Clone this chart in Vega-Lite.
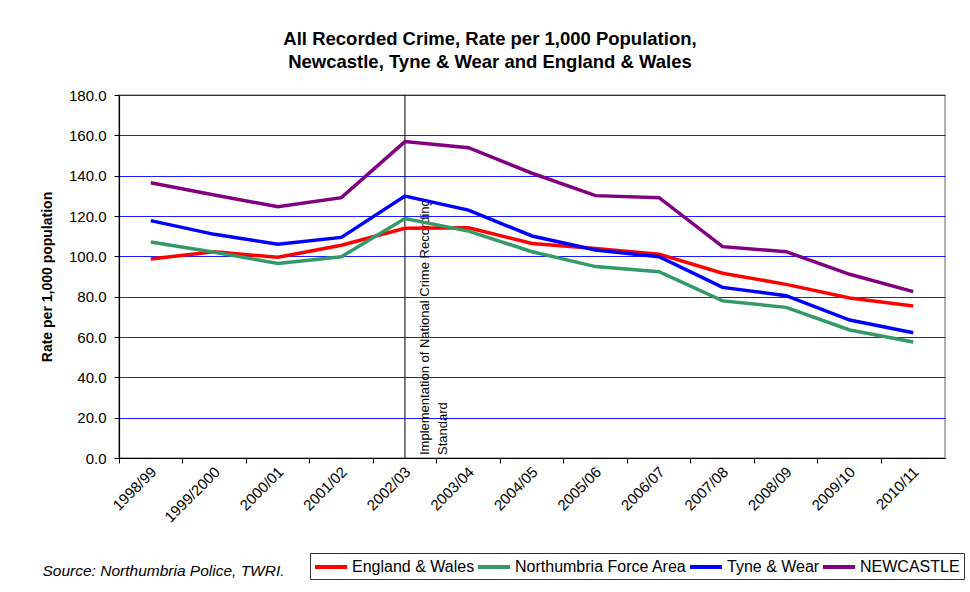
{
  "$schema": "https://vega.github.io/schema/vega-lite/v6.json",
  "width": 826,
  "height": 363,
  "autosize": {"type": "none"},
  "padding": {"left": 119, "top": 95, "right": 25, "bottom": 134},
  "background": "white",
  "config": {
    "font": "Liberation Sans",
    "view": {"stroke": "#999999", "strokeWidth": 1.5},
    "axis": {"labelFont": "Liberation Sans", "titleFont": "Liberation Sans", "labelColor": "black", "titleColor": "black", "domainColor": "black", "tickColor": "black"},
    "legend": {"strokeColor": "#333333"}
  },
  "title": {
    "text": ["All Recorded Crime, Rate per 1,000 Population,", "Newcastle, Tyne & Wear and England & Wales"],
    "fontSize": 18.5,
    "fontWeight": "bold",
    "font": "Liberation Sans",
    "color": "black",
    "anchor": "middle",
    "frame": "group",
    "dx": -42,
    "offset": 17,
    "lineHeight": 23
  },
  "datasets": {
    "crime": [
      {"year": "1998/99", "area": "England & Wales", "rate": 98.7},
      {"year": "1999/2000", "area": "England & Wales", "rate": 102.3},
      {"year": "2000/01", "area": "England & Wales", "rate": 99.5},
      {"year": "2001/02", "area": "England & Wales", "rate": 105.5},
      {"year": "2002/03", "area": "England & Wales", "rate": 113.9},
      {"year": "2003/04", "area": "England & Wales", "rate": 114.2},
      {"year": "2004/05", "area": "England & Wales", "rate": 106.4},
      {"year": "2005/06", "area": "England & Wales", "rate": 103.9},
      {"year": "2006/07", "area": "England & Wales", "rate": 101.1},
      {"year": "2007/08", "area": "England & Wales", "rate": 91.6},
      {"year": "2008/09", "area": "England & Wales", "rate": 86.1},
      {"year": "2009/10", "area": "England & Wales", "rate": 79.3},
      {"year": "2010/11", "area": "England & Wales", "rate": 75.4},
      {"year": "1998/99", "area": "Northumbria Force Area", "rate": 107.1},
      {"year": "1999/2000", "area": "Northumbria Force Area", "rate": 102.0},
      {"year": "2000/01", "area": "Northumbria Force Area", "rate": 96.5},
      {"year": "2001/02", "area": "Northumbria Force Area", "rate": 99.8},
      {"year": "2002/03", "area": "Northumbria Force Area", "rate": 118.7},
      {"year": "2003/04", "area": "Northumbria Force Area", "rate": 112.5},
      {"year": "2004/05", "area": "Northumbria Force Area", "rate": 102.3},
      {"year": "2005/06", "area": "Northumbria Force Area", "rate": 94.9},
      {"year": "2006/07", "area": "Northumbria Force Area", "rate": 92.4},
      {"year": "2007/08", "area": "Northumbria Force Area", "rate": 77.9},
      {"year": "2008/09", "area": "Northumbria Force Area", "rate": 74.7},
      {"year": "2009/10", "area": "Northumbria Force Area", "rate": 63.5},
      {"year": "2010/11", "area": "Northumbria Force Area", "rate": 57.5},
      {"year": "1998/99", "area": "Tyne & Wear", "rate": 117.7},
      {"year": "1999/2000", "area": "Tyne & Wear", "rate": 110.9},
      {"year": "2000/01", "area": "Tyne & Wear", "rate": 106.0},
      {"year": "2001/02", "area": "Tyne & Wear", "rate": 109.4},
      {"year": "2002/03", "area": "Tyne & Wear", "rate": 129.9},
      {"year": "2003/04", "area": "Tyne & Wear", "rate": 122.9},
      {"year": "2004/05", "area": "Tyne & Wear", "rate": 110.1},
      {"year": "2005/06", "area": "Tyne & Wear", "rate": 103.1},
      {"year": "2006/07", "area": "Tyne & Wear", "rate": 99.8},
      {"year": "2007/08", "area": "Tyne & Wear", "rate": 84.6},
      {"year": "2008/09", "area": "Tyne & Wear", "rate": 80.5},
      {"year": "2009/10", "area": "Tyne & Wear", "rate": 68.4},
      {"year": "2010/11", "area": "Tyne & Wear", "rate": 62.1},
      {"year": "1998/99", "area": "NEWCASTLE", "rate": 136.5},
      {"year": "1999/2000", "area": "NEWCASTLE", "rate": 130.4},
      {"year": "2000/01", "area": "NEWCASTLE", "rate": 124.6},
      {"year": "2001/02", "area": "NEWCASTLE", "rate": 129.1},
      {"year": "2002/03", "area": "NEWCASTLE", "rate": 156.9},
      {"year": "2003/04", "area": "NEWCASTLE", "rate": 153.9},
      {"year": "2004/05", "area": "NEWCASTLE", "rate": 141.2},
      {"year": "2005/06", "area": "NEWCASTLE", "rate": 130.1},
      {"year": "2006/07", "area": "NEWCASTLE", "rate": 129.1},
      {"year": "2007/08", "area": "NEWCASTLE", "rate": 104.8},
      {"year": "2008/09", "area": "NEWCASTLE", "rate": 102.3},
      {"year": "2009/10", "area": "NEWCASTLE", "rate": 91.1},
      {"year": "2010/11", "area": "NEWCASTLE", "rate": 82.5}
    ],
    "marker": [
      {"year": "2002/03", "rate": 0, "note": ["Implementation of National Crime Recording", "Standard"]}
    ]
  },
  "encoding": {
    "x": {
      "field": "year",
      "type": "ordinal",
      "sort": null,
      "scale": {"type": "band", "paddingInner": 0, "paddingOuter": 0,
        "domain": ["1998/99", "1999/2000", "2000/01", "2001/02", "2002/03", "2003/04", "2004/05", "2005/06", "2006/07", "2007/08", "2008/09", "2009/10", "2010/11"]},
      "axis": {
        "title": "Source: Northumbria Police, TWRI.",
        "titleFontStyle": "italic",
        "titleFontWeight": "normal",
        "titleFontSize": 15.5,
        "titleX": -77,
        "titleY": 112,
        "titleAlign": "left",
        "titleBaseline": "middle",
        "bandPosition": 0,
        "labelAngle": -45,
        "labelAlign": "right",
        "labelBaseline": "middle",
        "labelOffset": 3,
        "labelPadding": 6,
        "labelFontSize": 15,
        "tickSize": 5,
        "grid": false,
        "domainWidth": 1.2
      }
    },
    "y": {
      "field": "rate",
      "type": "quantitative",
      "scale": {"domain": [0, 180], "nice": false},
      "axis": {
        "title": "Rate per 1,000 population",
        "titleFontSize": 14,
        "titleFontWeight": "bold",
        "titleX": -72,
        "titleY": 181.5,
        "titleAlign": "center",
        "titleBaseline": "middle",
        "values": [0, 20, 40, 60, 80, 100, 120, 140, 160, 180],
        "format": ".1f",
        "labelFontSize": 15,
        "labelPadding": 8,
        "tickSize": 5,
        "grid": true,
        "gridColor": "#1a1aff",
        "gridWidth": 1,
        "domainWidth": 1.2
      }
    }
  },
  "layer": [
    {
      "data": {"name": "marker"},
      "mark": {"type": "rule", "color": "black", "strokeWidth": 1},
      "encoding": {"y": null}
    },
    {
      "data": {"name": "marker"},
      "mark": {"type": "text", "angle": 270, "align": "left", "baseline": "top", "dx": 3, "dy": 14, "fontSize": 13, "lineHeight": 18, "color": "black", "font": "Liberation Sans"},
      "encoding": {"text": {"field": "note"}}
    },
    {
      "data": {"name": "crime"},
      "mark": {"type": "line", "strokeWidth": 3.5},
      "encoding": {
        "color": {
          "field": "area",
          "type": "nominal",
          "scale": {"domain": ["England & Wales", "Northumbria Force Area", "Tyne & Wear", "NEWCASTLE"], "range": ["#FF0000", "#339966", "#0000FF", "#800080"]},
          "legend": {
            "title": null,
            "orient": "none",
            "legendX": 191,
            "legendY": 458,
            "direction": "horizontal",
            "columns": 4,
            "strokeColor": "#333333",
            "fillColor": "white",
            "padding": 4,
            "symbolType": "M-2,0H2",
            "symbolSize": 256,
            "symbolOffset": 7,
            "symbolStrokeWidth": 4,
            "labelFontSize": 16,
            "labelFont": "Liberation Sans",
            "labelColor": "black",
            "labelOffset": 11,
            "columnPadding": -5,
            "labelLimit": 300
          }
        }
      }
    }
  ]
}
